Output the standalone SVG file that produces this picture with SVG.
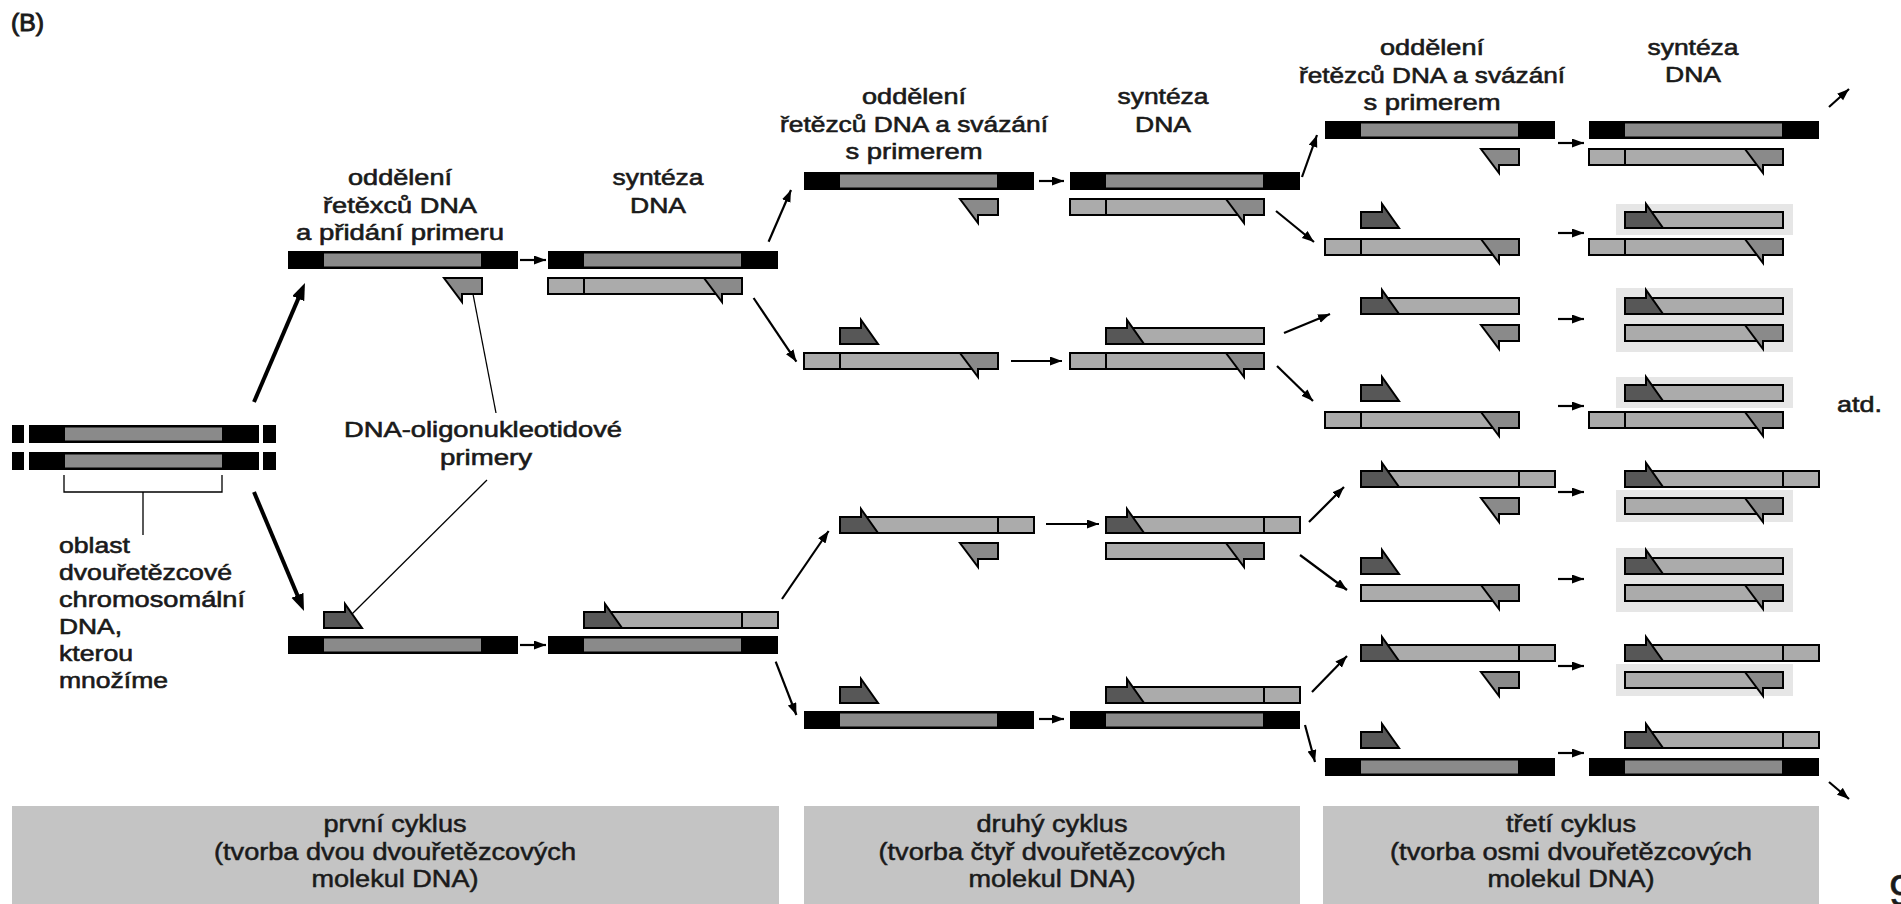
<svg xmlns="http://www.w3.org/2000/svg" width="1901" height="904" viewBox="0 0 1901 904">
<defs>
<style>
.t{font-family:"Liberation Sans",Arial,sans-serif;font-size:22px;fill:#1a1a1a;stroke:#1a1a1a;stroke-width:0.6px}
.c{text-anchor:middle}
.tb{font-family:"Liberation Sans",Arial,sans-serif;font-size:23px;fill:#1a1a1a;stroke:#1a1a1a;stroke-width:0.5px;text-anchor:middle}
.lt{fill:#ababab;stroke:#000;stroke-width:2}
.rp{fill:#8a8a8a;stroke:#000;stroke-width:2}
.fp{fill:#575757;stroke:#000;stroke-width:2}
.dv{stroke:#000;stroke-width:2}
.ar{stroke:#000;stroke-width:2.2;fill:none;marker-end:url(#ah)}
.art{stroke:#000;stroke-width:4;fill:none;marker-end:url(#aht)}
.ptr{stroke:#000;stroke-width:1.3;fill:none}
.bg{fill:#e6e6e6}
.box{fill:#c4c4c4}
</style>
<marker id="ah" markerUnits="userSpaceOnUse" markerWidth="13" markerHeight="10" refX="12" refY="4.5" orient="auto"><path d="M0,0 L12,4.5 L0,9 z" fill="#000"/></marker>
<marker id="aht" markerUnits="userSpaceOnUse" markerWidth="18" markerHeight="14" refX="9" refY="6.5" orient="auto"><path d="M0,0 L17,6.5 L0,13 z" fill="#000"/></marker>
<g id="orig"><rect x="0" y="0" width="230" height="18" fill="#000"/><rect x="36" y="2.5" width="157" height="13" fill="#8a8a8a"/></g>
<g id="revL"><rect class="lt" x="0" y="1" width="194" height="16"/><line class="dv" x1="36" y1="1" x2="36" y2="17"/><polygon class="rp" points="156,1 194,1 194,17 174,17 174,25"/></g>
<g id="revS"><rect class="lt" x="36" y="1" width="158" height="16"/><polygon class="rp" points="156,1 194,1 194,17 174,17 174,25"/></g>
<g id="fwdL"><rect class="lt" x="36" y="1" width="194" height="16"/><line class="dv" x1="194" y1="1" x2="194" y2="17"/><polygon class="fp" points="36,17 36,1 57,1 57,-7 74,17"/></g>
<g id="fwdS"><rect class="lt" x="36" y="1" width="158" height="16"/><polygon class="fp" points="36,17 36,1 57,1 57,-7 74,17"/></g>
<polygon id="rp" class="rp" points="156,1 194,1 194,17 174,17 174,25"/>
<polygon id="fp" class="fp" points="36,17 36,1 57,1 57,-7 74,17"/>
</defs>
<rect width="1901" height="904" fill="#fff"/>

<g id="panel-label"><text class="t" x="11" y="31" style="font-size:23px;stroke-width:0.9px" textLength="33" lengthAdjust="spacingAndGlyphs">(B)</text></g>

<g id="cycle-boxes">
<g id="box-cycle1"><rect class="box" x="12" y="806" width="767" height="98"/>
<text class="tb" x="395" y="832" textLength="143" lengthAdjust="spacingAndGlyphs">první cyklus</text>
<text class="tb" x="395" y="860" textLength="362" lengthAdjust="spacingAndGlyphs">(tvorba dvou dvouřetězcových</text>
<text class="tb" x="395" y="887" textLength="167" lengthAdjust="spacingAndGlyphs">molekul DNA)</text></g>
<g id="box-cycle2"><rect class="box" x="804" y="806" width="496" height="98"/>
<text class="tb" x="1052" y="832" textLength="151" lengthAdjust="spacingAndGlyphs">druhý cyklus</text>
<text class="tb" x="1052" y="860" textLength="347" lengthAdjust="spacingAndGlyphs">(tvorba čtyř dvouřetězcových</text>
<text class="tb" x="1052" y="887" textLength="167" lengthAdjust="spacingAndGlyphs">molekul DNA)</text></g>
<g id="box-cycle3"><rect class="box" x="1323" y="806" width="496" height="98"/>
<text class="tb" x="1571" y="832" textLength="130" lengthAdjust="spacingAndGlyphs">třetí cyklus</text>
<text class="tb" x="1571" y="860" textLength="362" lengthAdjust="spacingAndGlyphs">(tvorba osmi dvouřetězcových</text>
<text class="tb" x="1571" y="887" textLength="167" lengthAdjust="spacingAndGlyphs">molekul DNA)</text></g>
</g>

<g id="column-labels">
<g id="lbl-c1-sep"><text class="t c" x="400" y="185" textLength="104" lengthAdjust="spacingAndGlyphs">oddělení</text>
<text class="t c" x="400" y="213" textLength="154" lengthAdjust="spacingAndGlyphs">řetěxců DNA</text>
<text class="t c" x="400" y="240" textLength="208" lengthAdjust="spacingAndGlyphs">a přidání primeru</text></g>
<g id="lbl-c1-syn"><text class="t c" x="658" y="185" textLength="91" lengthAdjust="spacingAndGlyphs">syntéza</text>
<text class="t c" x="658" y="213" textLength="56" lengthAdjust="spacingAndGlyphs">DNA</text></g>
<g id="lbl-c2-sep"><text class="t c" x="914" y="104" textLength="104" lengthAdjust="spacingAndGlyphs">oddělení</text>
<text class="t c" x="914" y="132" textLength="268" lengthAdjust="spacingAndGlyphs">řetězců DNA a svázání</text>
<text class="t c" x="914" y="159" textLength="137" lengthAdjust="spacingAndGlyphs">s primerem</text></g>
<g id="lbl-c2-syn"><text class="t c" x="1163" y="104" textLength="91" lengthAdjust="spacingAndGlyphs">syntéza</text>
<text class="t c" x="1163" y="132" textLength="56" lengthAdjust="spacingAndGlyphs">DNA</text></g>
<g id="lbl-c3-sep"><text class="t c" x="1432" y="55" textLength="104" lengthAdjust="spacingAndGlyphs">oddělení</text>
<text class="t c" x="1432" y="83" textLength="266" lengthAdjust="spacingAndGlyphs">řetězců DNA a svázání</text>
<text class="t c" x="1432" y="110" textLength="137" lengthAdjust="spacingAndGlyphs">s primerem</text></g>
<g id="lbl-c3-syn"><text class="t c" x="1693" y="55" textLength="91" lengthAdjust="spacingAndGlyphs">syntéza</text>
<text class="t c" x="1693" y="82" textLength="56" lengthAdjust="spacingAndGlyphs">DNA</text></g>
</g>

<g id="primer-label"><text class="t c" x="483" y="437" textLength="278" lengthAdjust="spacingAndGlyphs">DNA-oligonukleotidové</text>
<text class="t c" x="486" y="465" textLength="92" lengthAdjust="spacingAndGlyphs">primery</text></g>

<g id="start-dna">
<rect x="12" y="425" width="12" height="18"/><use href="#orig" x="29" y="425"/><rect x="263" y="425" width="13" height="18"/>
<rect x="12" y="452" width="12" height="18"/><use href="#orig" x="29" y="452"/><rect x="263" y="452" width="13" height="18"/>
<path class="ptr" d="M64,475 V492 H222 V475 M143,492 V535" stroke-width="1.6"/>
<text class="t" x="59" y="553" textLength="71" lengthAdjust="spacingAndGlyphs">oblast</text>
<text class="t" x="59" y="580" textLength="173" lengthAdjust="spacingAndGlyphs">dvouřetězcové</text>
<text class="t" x="59" y="607" textLength="186" lengthAdjust="spacingAndGlyphs">chromosomální</text>
<text class="t" x="59" y="634" textLength="63" lengthAdjust="spacingAndGlyphs">DNA,</text>
<text class="t" x="59" y="661" textLength="74" lengthAdjust="spacingAndGlyphs">kterou</text>
<text class="t" x="59" y="688" textLength="109" lengthAdjust="spacingAndGlyphs">množíme</text>
</g>

<g id="cycle1">
<g id="c1-sep-top"><use href="#orig" x="288" y="251"/><use href="#rp" x="288" y="277"/></g>
<g id="c1-sep-bottom"><use href="#fp" x="288" y="611"/><use href="#orig" x="288" y="636"/></g>
<g id="c1-syn-top"><use href="#orig" x="548" y="251"/><use href="#revL" x="548" y="277"/></g>
<g id="c1-syn-bottom"><use href="#fwdL" x="548" y="611"/><use href="#orig" x="548" y="636"/></g>
</g>

<g id="cycle2">
<g id="c2-sep-r1"><use href="#orig" x="804" y="172"/><use href="#rp" x="804" y="198"/></g>
<g id="c2-sep-r2"><use href="#fp" x="804" y="327"/><use href="#revL" x="804" y="352"/></g>
<g id="c2-sep-r3"><use href="#fwdL" x="804" y="516"/><use href="#rp" x="804" y="542"/></g>
<g id="c2-sep-r4"><use href="#fp" x="804" y="686"/><use href="#orig" x="804" y="711"/></g>
<g id="c2-syn-r1"><use href="#orig" x="1070" y="172"/><use href="#revL" x="1070" y="198"/></g>
<g id="c2-syn-r2"><use href="#fwdS" x="1070" y="327"/><use href="#revL" x="1070" y="352"/></g>
<g id="c2-syn-r3"><use href="#fwdL" x="1070" y="516"/><use href="#revS" x="1070" y="542"/></g>
<g id="c2-syn-r4"><use href="#fwdL" x="1070" y="686"/><use href="#orig" x="1070" y="711"/></g>
</g>

<g id="cycle3">
<g id="c3-sep-r1"><use href="#orig" x="1325" y="121"/><use href="#rp" x="1325" y="148"/></g>
<g id="c3-sep-r2"><use href="#fp" x="1325" y="211"/><use href="#revL" x="1325" y="238"/></g>
<g id="c3-sep-r3"><use href="#fwdS" x="1325" y="297"/><use href="#rp" x="1325" y="324"/></g>
<g id="c3-sep-r4"><use href="#fp" x="1325" y="384"/><use href="#revL" x="1325" y="411"/></g>
<g id="c3-sep-r5"><use href="#fwdL" x="1325" y="470"/><use href="#rp" x="1325" y="497"/></g>
<g id="c3-sep-r6"><use href="#fp" x="1325" y="557"/><use href="#revS" x="1325" y="584"/></g>
<g id="c3-sep-r7"><use href="#fwdL" x="1325" y="644"/><use href="#rp" x="1325" y="671"/></g>
<g id="c3-sep-r8"><use href="#fp" x="1325" y="731"/><use href="#orig" x="1325" y="758"/></g>

<g id="c3-syn-r1"><use href="#orig" x="1589" y="121"/><use href="#revL" x="1589" y="148"/></g>
<g id="c3-syn-r2"><rect class="bg" x="1616" y="204" width="177" height="31"/><use href="#fwdS" x="1589" y="211"/><use href="#revL" x="1589" y="238"/></g>
<g id="c3-syn-r3"><rect class="bg" x="1616" y="288" width="177" height="64"/><use href="#fwdS" x="1589" y="297"/><use href="#revS" x="1589" y="324"/></g>
<g id="c3-syn-r4"><rect class="bg" x="1616" y="377" width="177" height="31"/><use href="#fwdS" x="1589" y="384"/><use href="#revL" x="1589" y="411"/></g>
<g id="c3-syn-r5"><rect class="bg" x="1616" y="490" width="177" height="32"/><use href="#fwdL" x="1589" y="470"/><use href="#revS" x="1589" y="497"/></g>
<g id="c3-syn-r6"><rect class="bg" x="1616" y="548" width="177" height="64"/><use href="#fwdS" x="1589" y="557"/><use href="#revS" x="1589" y="584"/></g>
<g id="c3-syn-r7"><rect class="bg" x="1616" y="664" width="177" height="32"/><use href="#fwdL" x="1589" y="644"/><use href="#revS" x="1589" y="671"/></g>
<g id="c3-syn-r8"><use href="#fwdL" x="1589" y="731"/><use href="#orig" x="1589" y="758"/></g>
</g>

<g id="etc"><text class="t" x="1837" y="412" textLength="45" lengthAdjust="spacingAndGlyphs">atd.</text></g>
<g id="page-number"><text class="t" x="1889" y="906" style="font-size:44px">9</text></g>

<g id="connectors">
<line class="art" x1="254" y1="402" x2="301.8" y2="290.4"/>
<line class="art" x1="254" y1="492" x2="300.9" y2="603.6"/>
<line class="ptr" x1="473" y1="294" x2="496" y2="413"/>
<line class="ptr" x1="487" y1="480" x2="352" y2="614"/>
<line class="ar" x1="520" y1="260" x2="546" y2="260"/>
<line class="ar" x1="520" y1="645" x2="546" y2="645"/>
<line class="ar" x1="768.6" y1="241.7" x2="791" y2="190"/>
<line class="ar" x1="753.6" y1="298" x2="796.4" y2="361.7"/>
<line class="ar" x1="782" y1="599" x2="828.6" y2="531"/>
<line class="ar" x1="775.7" y1="661.7" x2="796.4" y2="715"/>
<line class="ar" x1="1039" y1="181" x2="1064" y2="181"/>
<line class="ar" x1="1011" y1="361" x2="1062" y2="361"/>
<line class="ar" x1="1046" y1="524" x2="1099" y2="524"/>
<line class="ar" x1="1039" y1="719" x2="1064" y2="719"/>
<line class="ar" x1="1302" y1="177" x2="1317" y2="135"/>
<line class="ar" x1="1276" y1="211" x2="1314" y2="242"/>
<line class="ar" x1="1284" y1="333" x2="1330" y2="314"/>
<line class="ar" x1="1277" y1="366" x2="1313" y2="401"/>
<line class="ar" x1="1309" y1="522" x2="1344" y2="487"/>
<line class="ar" x1="1300" y1="555" x2="1347" y2="590"/>
<line class="ar" x1="1312" y1="692" x2="1347" y2="656"/>
<line class="ar" x1="1305" y1="725" x2="1315" y2="762"/>
<line class="ar" x1="1558" y1="143" x2="1584" y2="143"/>
<line class="ar" x1="1558" y1="233" x2="1584" y2="233"/>
<line class="ar" x1="1558" y1="319" x2="1584" y2="319"/>
<line class="ar" x1="1558" y1="406" x2="1584" y2="406"/>
<line class="ar" x1="1558" y1="492" x2="1584" y2="492"/>
<line class="ar" x1="1558" y1="579" x2="1584" y2="579"/>
<line class="ar" x1="1558" y1="666" x2="1584" y2="666"/>
<line class="ar" x1="1558" y1="753" x2="1584" y2="753"/>
<line class="ar" x1="1829" y1="107" x2="1849" y2="89"/>
<line class="ar" x1="1829" y1="782" x2="1849" y2="799"/>
</g>
</svg>
